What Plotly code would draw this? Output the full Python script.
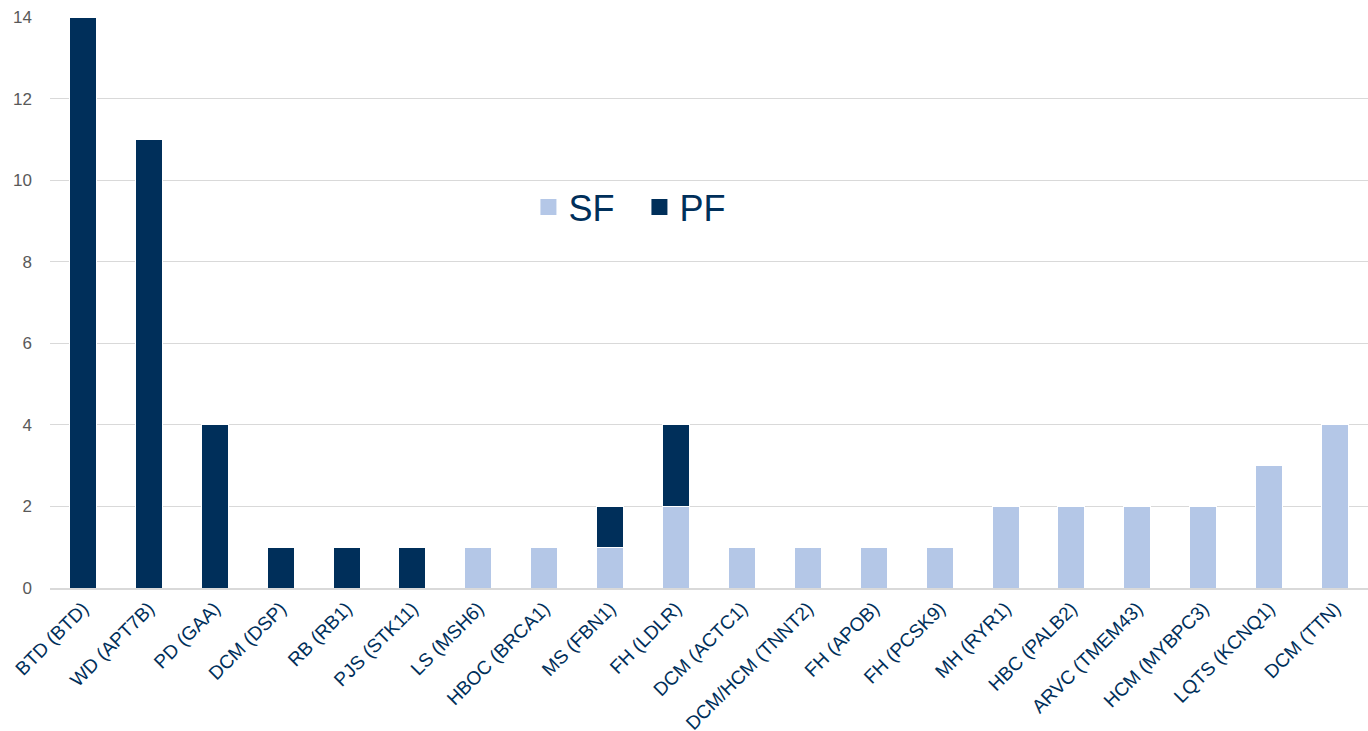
import plotly.graph_objects as go

categories = ["BTD (BTD)", "WD (APT7B)", "PD (GAA)", "DCM (DSP)", "RB (RB1)", "PJS (STK11)",
              "LS (MSH6)", "HBOC (BRCA1)", "MS (FBN1)", "FH (LDLR)", "DCM (ACTC1)",
              "DCM/HCM (TNNT2)", "FH (APOB)", "FH (PCSK9)", "MH (RYR1)", "HBC (PALB2)",
              "ARVC (TMEM43)", "HCM (MYBPC3)", "LQTS (KCNQ1)", "DCM (TTN)"]
sf_values = [0, 0, 0, 0, 0, 0, 1, 1, 1, 2, 1, 1, 1, 1, 2, 2, 2, 2, 3, 4]
pf_values = [14, 11, 4, 1, 1, 1, 0, 0, 1, 2, 0, 0, 0, 0, 0, 0, 0, 0, 0, 0]
y_ticks = [0, 2, 4, 6, 8, 10, 12, 14]

SF_COLOR = "#B4C7E7"
PF_COLOR = "#002F5A"

fig = go.Figure()
fig.add_trace(go.Bar(x=categories, y=sf_values, name="SF", marker_color=SF_COLOR,
                     marker_line=dict(color="white", width=1), showlegend=False))
fig.add_trace(go.Bar(x=categories, y=pf_values, name="PF", marker_color=PF_COLOR,
                     marker_line=dict(color="white", width=1), showlegend=False))
# legend entries with larger square swatches
fig.add_trace(go.Scatter(x=[None], y=[None], mode="markers", name="SF",
                         marker=dict(symbol="square", size=16, color=SF_COLOR)))
fig.add_trace(go.Scatter(x=[None], y=[None], mode="markers", name="PF",
                         marker=dict(symbol="square", size=16, color=PF_COLOR)))

fig.update_layout(
    barmode="stack",
    bargap=0.59,
    width=1368, height=731,
    margin=dict(l=50, r=0, t=17, b=143),
    plot_bgcolor="white", paper_bgcolor="white",
    font=dict(family="Liberation Sans, Arial, sans-serif"),
    legend=dict(orientation="h", x=0.363, y=0.667, xanchor="left", yanchor="middle",
                font=dict(size=36, color="#002F5A"), bgcolor="rgba(0,0,0,0)",
                itemsizing="trace", traceorder="normal", entrywidth=66),
)
fig.update_yaxes(range=[0, 14], tickvals=y_ticks, showgrid=True, gridcolor="#D9D9D9",
                 gridwidth=1, zeroline=False, showline=False, automargin=False,
                 tickfont=dict(size=17, color="#595959"), ticks="", ticklabelstandoff=17)
fig.update_xaxes(tickangle=-45, tickfont=dict(size=19, color="#002F5A"),
                 showline=True, linecolor="#D9D9D9", linewidth=2, ticks="",
                 showgrid=False, automargin=False)

fig.write_html("out.html")
